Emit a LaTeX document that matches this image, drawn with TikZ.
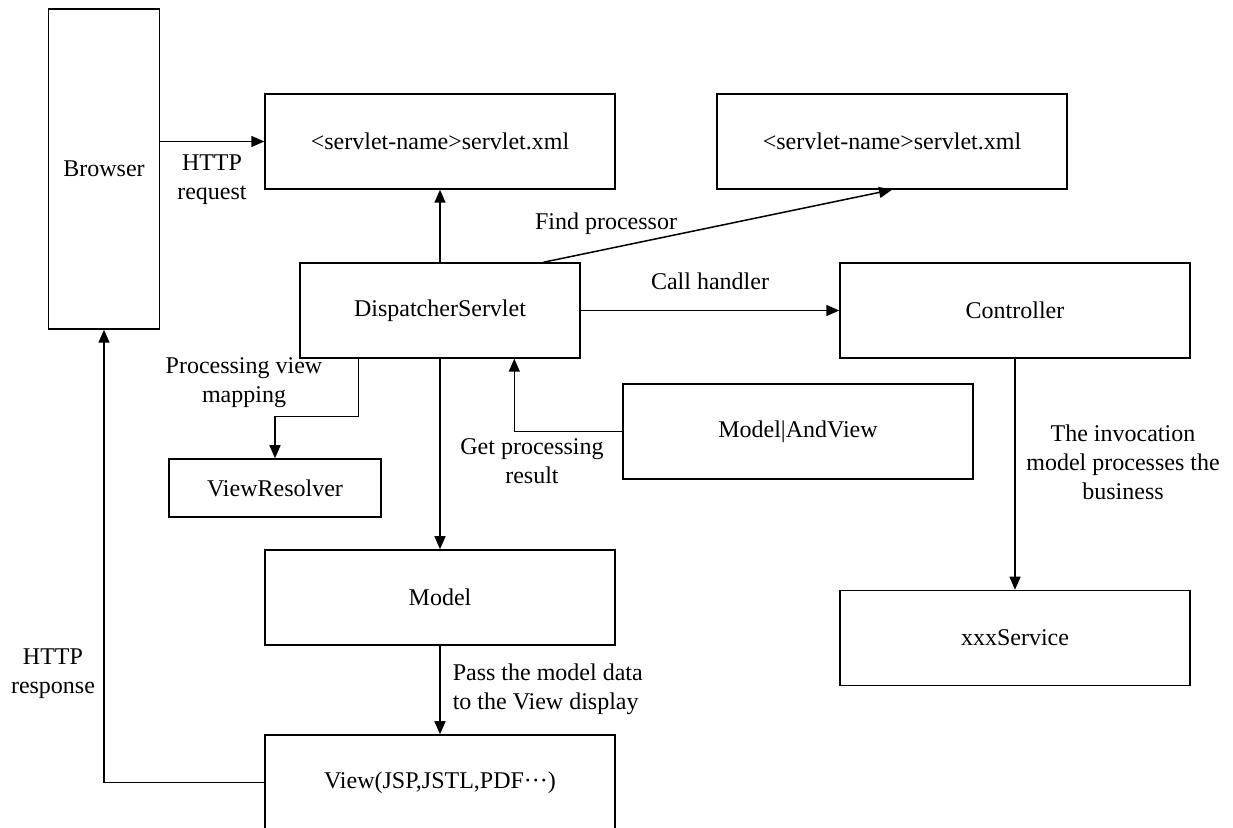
\documentclass[tikz,border=0pt]{standalone}
\usepackage{fontspec}
\setmainfont{Liberation Serif}
\usetikzlibrary{arrows.meta,calc}

\begin{document}
\begin{tikzpicture}[x=0.5pt, y=-0.5pt, line width=0.75pt,
        font=\fontsize{12}{14.5}\selectfont,
        >={Triangle[length=6.5pt, width=5.5pt]},
        main/.style={draw, minimum width=175pt, minimum height=47.5pt, inner sep=0pt},
        lbl/.style={align=center, inner sep=0pt}]
        \clip (0,0) rectangle (1233,828);

        \node[main, minimum width=55.5pt, minimum height=160pt] (browser) at (104,169) {Browser};
        \node[main] (xmlA) at (440,141.5) {<servlet-name>servlet.xml};
        \node[main] (xmlB) at (892,141.5) {<servlet-name>servlet.xml};

        \node[main, minimum width=140pt] (disp) at (440,310.5) {DispatcherServlet};
        \node[main] (ctrl) at (1015,310.5) {Controller};
        \node[main] (mav) at (798,431.5) {Model|AndView};
        \node[main, minimum width=106pt, minimum height=29pt] (resolver) at (275,488) {ViewResolver};

        \node[main] (model) at (440,597.5) {Model};
        \node[main] (service) at (1015,638) {xxxService};
        \node[main] (view) at (440,782.5) {View(JSP,JSTL,PDF···)};

        \draw[->] (browser.east |- xmlA.west) -- (xmlA.west);
        \draw[->] (disp.north) -- (xmlA.south);
        \draw[->] (disp.25) -- (xmlB.south);
        \draw[->] (disp.east) -- (ctrl.west);
        \draw[->] (ctrl.south) -- (service.north);
        \draw[->] (mav.west) -| (disp.-33);
        \draw[->] ($(disp.south west)+(59,0)$) -- ++(0,58) -| (resolver.north);
        \draw[->] (disp.south) -- (model.north);
        \draw[->] (model.south) -- (view.north);
        \draw[->] (view.west) -| (browser.south);

        \node[lbl] (req) at (212,180) {HTTP\\request};
        \node[lbl] (resp) at (53,674) {HTTP\\response};
        \node[lbl] (find) at (606,224) {Find processor};
        \node[lbl] (call) at (710,281) {Call handler};
        \node[lbl] (mapping) at (244,383) {Processing view\\mapping};
        \node[lbl] (result) at (532,461) {Get processing\\result};
        \node[lbl] (invoke) at (1123,462) {The invocation\\model processes the\\business};
        \node[lbl, align=left, anchor=west] (pass) at (452,689) {Pass the model data\\to the View display};
    \end{tikzpicture}
\end{document}
